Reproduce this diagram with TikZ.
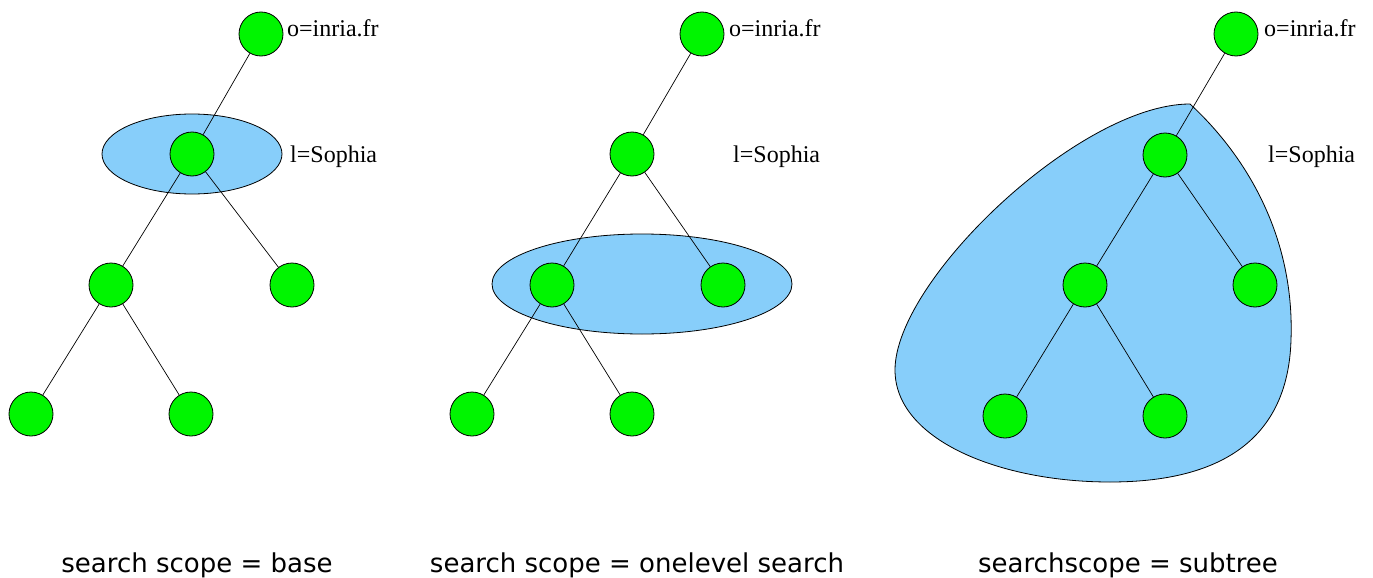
\documentclass[tikz,border=0pt]{standalone}
\usepackage{fontspec}
\setmainfont{Liberation Serif}
\newfontfamily\capfont{DejaVu Sans}
\definecolor{leafgreen}{RGB}{0,245,0}
\definecolor{scopeblue}{RGB}{135,206,250}
\begin{document}
\begin{tikzpicture}[x=1pt,y=-1pt,
  entry/.style={circle,draw=black,fill=leafgreen,line width=0.8pt,minimum size=44pt,inner sep=0pt},
  link/.style={draw=black,line width=0.7pt},
  scope/.style={draw=black,fill=scopeblue,line width=0.8pt},
  dnlabel/.style={anchor=west,inner sep=0pt,font=\fontsize{24}{26}\selectfont},
  caption/.style={inner sep=0pt,font=\capfont\fontsize{26}{30}\selectfont}]
\useasboundingbox (0,0) rectangle (1373,578);
% ---------- panel 1 : base
\draw[scope] (192,154) ellipse [x radius=90pt, y radius=40pt];
\node[entry] (a0) at (261,34) {};
\node[entry] (a1) at (192,154) {};
\node[entry] (a2) at (111,285) {};
\node[entry] (a3) at (292,285) {};
\node[entry] (a4) at (31,414) {};
\node[entry] (a5) at (191,414) {};
\draw[link] (a0) -- (a1);
\draw[link] (a1) -- (a2);
\draw[link] (a1) -- (a3);
\draw[link] (a2) -- (a4);
\draw[link] (a2) -- (a5);
\node[dnlabel] (la0) at (287,28) {o=inria.fr};
\node[dnlabel] (la1) at (290,157) {l=Sophia};
\node[caption] (ca) at (197,565) {search scope = base};
% ---------- panel 2 : onelevel
\draw[scope] (642,284) ellipse [x radius=150pt, y radius=50pt];
\node[entry] (b0) at (702,34) {};
\node[entry] (b1) at (632,154) {};
\node[entry] (b2) at (552,285) {};
\node[entry] (b3) at (723,285) {};
\node[entry] (b4) at (472,414) {};
\node[entry] (b5) at (632,414) {};
\draw[link] (b0) -- (b1);
\draw[link] (b1) -- (b2);
\draw[link] (b1) -- (b3);
\draw[link] (b2) -- (b4);
\draw[link] (b2) -- (b5);
\node[dnlabel] (lb0) at (729,28) {o=inria.fr};
\node[dnlabel] (lb1) at (733,157) {l=Sophia};
\node[caption] (cb) at (637,565) {search scope = onelevel search};
% ---------- panel 3 : subtree
\draw[scope] (1190,104) .. controls (1240,150) and (1295,230) .. (1291,340)
  .. controls (1288,440) and (1220,482) .. (1110,482)
  .. controls (1000,482) and (895,440) .. (895,370)
  .. controls (895,280) and (1080,104) .. (1190,104) -- cycle;
\node[entry] (c0) at (1236,34) {};
\node[entry] (c1) at (1165,155) {};
\node[entry] (c2) at (1085,285) {};
\node[entry] (c3) at (1255,285) {};
\node[entry] (c4) at (1005,416) {};
\node[entry] (c5) at (1165,416) {};
\draw[link] (c0) -- (c1);
\draw[link] (c1) -- (c2);
\draw[link] (c1) -- (c3);
\draw[link] (c2) -- (c4);
\draw[link] (c2) -- (c5);
\node[dnlabel] (lc0) at (1264,28) {o=inria.fr};
\node[dnlabel] (lc1) at (1268,157) {l=Sophia};
\node[caption] (cc) at (1128,565) {searchscope = subtree};
\end{tikzpicture}
\end{document}
